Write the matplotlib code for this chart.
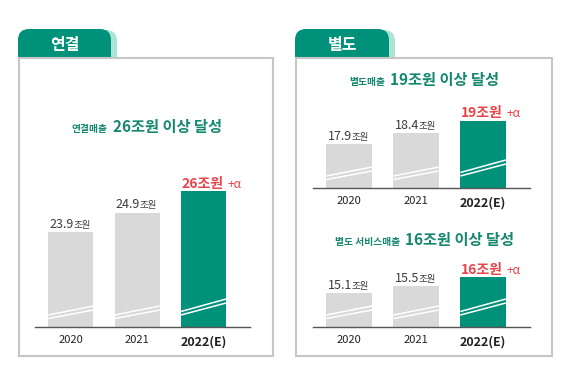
import matplotlib
matplotlib.use('Agg')
import matplotlib.pyplot as plt
from matplotlib.patches import FancyBboxPatch, Rectangle

plt.rcParams['font.family'] = ['Noto Sans CJK KR', 'DejaVu Sans']

# ---------------- data ----------------
years = ['2020', '2021', '2022(E)']
cons_sales = [23.9, 24.9, 26]        # 연결매출 (조원)
sep_sales = [17.9, 18.4, 19]         # 별도매출 (조원)
sep_service = [15.1, 15.5, 16]       # 별도 서비스매출 (조원)
target_labels = ['26조원', '19조원', '16조원']
tab_labels = ['연결', '별도']

# ---------------- style ----------------
W, H = 580, 366
GREEN = '#00917a'
MINT = '#a9e4d5'
GRAY_BAR = '#d9d9d9'
TEAL_TXT = '#14876f'
RED = '#e8454a'
DARK = '#3c3c3c'
BORDER = '#c6c6c6'

fig = plt.figure(figsize=(W / 100, H / 100), dpi=100)
bg = fig.add_axes([0, 0, 1, 1])
bg.set_xlim(0, W)
bg.set_ylim(H, 0)
bg.axis('off')


def T(x, y, s, **kw):
    return fig.text(x / W, 1 - y / H, s, **kw)


def panel(x0, x1, tab_x1, label):
    y_top, y_bot, tab_top = 58, 356, 29
    # shadow tab
    bg.add_patch(FancyBboxPatch((x0 + 6, tab_top + 1), tab_x1 - x0, 45,
                                boxstyle='round,pad=0,rounding_size=11',
                                fc=MINT, ec='none', zorder=1))
    bg.add_patch(FancyBboxPatch((x0, tab_top), tab_x1 - x0, 45,
                                boxstyle='round,pad=0,rounding_size=11',
                                fc=GREEN, ec='none', zorder=2))
    bg.add_patch(Rectangle((x0 + 1, y_top), x1 - x0 - 1, y_bot - y_top,
                           fc='white', ec=BORDER, lw=1.5, zorder=3))
    T((x0 + tab_x1) / 2, 45, label, color='white', fontsize=11.5,
      fontweight='bold', ha='center', va='center', zorder=5)


panel(18, 273, 111, tab_labels[0])
panel(295, 552, 389, tab_labels[1])


def title(x_split, y_base, small, big):
    T(x_split - 3, y_base, small, color=TEAL_TXT, fontsize=7, fontweight='bold',
      ha='right', va='baseline')
    T(x_split + 2, y_base, big, color=TEAL_TXT, fontsize=11, fontweight='bold',
      ha='left', va='baseline')


title(111, 132, '연결매출', target_labels[0] + ' 이상 달성')
title(388, 85, '별도매출', target_labels[1] + ' 이상 달성')
title(403, 245, '별도 서비스매출', target_labels[2] + ' 이상 달성')


def chart(x0, x1, y_base, height, scale, base, values, target):
    ax = fig.add_axes([x0 / W, (H - y_base) / H, (x1 - x0) / W, height / H])
    ax.set_xlim(-0.54, 2.70)
    ax.set_ylim(base, base + height / scale)
    xs = range(len(values))
    colors = [GRAY_BAR] * (len(values) - 1) + [GREEN]
    ax.bar(xs, values, width=0.68, color=colors, zorder=2)
    ax.patch.set_alpha(0)
    for s in ['top', 'left', 'right']:
        ax.spines[s].set_visible(False)
    ax.spines['bottom'].set_color('#555555')
    ax.spines['bottom'].set_linewidth(1.0)
    ax.spines['bottom'].set_zorder(3)
    ax.set_yticks([])
    ax.set_xticks(list(xs))
    ax.set_xticklabels(years)
    ax.tick_params(axis='x', length=0, pad=6)
    for i, lab in enumerate(ax.get_xticklabels()):
        if i == len(values) - 1:
            lab.set_fontsize(9)
            lab.set_fontweight('bold')
            lab.set_color('#222222')
        else:
            lab.set_fontsize(8)
            lab.set_color('#222222')
    # break marks (double white slanted lines)
    tr = ax.get_xaxis_transform()
    for i in xs:
        if i == len(values) - 1:
            pairs = [((12, 24)), ((15.5, 28))]
        else:
            pairs = [((8.5, 17)), ((12, 21))]
        for yl, yr in pairs:
            ax.plot([i - 0.34, i + 0.34], [yl / height, yr / height],
                    transform=tr, color='white', lw=1.1, zorder=4,
                    solid_capstyle='butt')
    # value labels
    for i, v in enumerate(values[:-1]):
        ax.annotate(f'{v:.1f}', xy=(i, v), xytext=(2, 3), textcoords='offset points',
                    ha='right', va='baseline', fontsize=9, color=DARK)
        ax.annotate('조원', xy=(i, v), xytext=(1.6, 3), textcoords='offset points',
                    ha='left', va='baseline', fontsize=6.8, color=DARK)
    i = len(values) - 1
    ax.annotate(target, xy=(i, values[i]), xytext=(-0.7, 2.5), textcoords='offset points',
                ha='center', va='baseline', fontsize=10, fontweight='bold', color=RED)
    ax.annotate('+α', xy=(i, values[i]), xytext=(17, 2.5), textcoords='offset points',
                ha='left', va='baseline', fontsize=8.5, color=RED)
    return ax


chart(35, 250, 327, 150, 19.6, 19.06, cons_sales, target_labels[0])
chart(313, 530, 188, 80, 21.07, 15.81, sep_sales, target_labels[1])
chart(313, 530, 327, 60, 17.87, 13.22, sep_service, target_labels[2])

fig.savefig('out.png', dpi=100)
